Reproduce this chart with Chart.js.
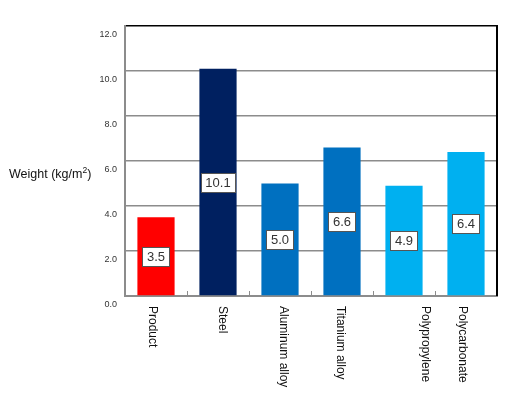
<!DOCTYPE html>
<html>
<head>
<meta charset="utf-8">
<script src="https://cdn.jsdelivr.net/npm/chart.js@4.4.1/dist/chart.umd.min.js"></script>
<style>
    html, body { margin: 0; padding: 0; background: #ffffff; }
    #wrap { width: 531px; height: 398px; }
</style>
</head>
<body>
<div id="wrap"><canvas id="graficoPeso" width="531" height="398"></canvas></div>
<script>
// Data
const categorias = ['Product', 'Steel', 'Aluminum alloy', 'Titanium alloy', 'Polypropylene', 'Polycarbonate'];
const pesos = [3.5, 10.1, 5.0, 6.6, 4.9, 6.4];
const coresBarras = ['#FF0000', '#002060', '#0070C0', '#0070C0', '#00B0F0', '#00B0F0'];
const ticksY = [0, 2, 4, 6, 8, 10, 12];

// small nudges of the rotated category labels (the source is not perfectly centred)
const ajusteRotulos = [-4, 4, 3, -2, 21, -4];

const FONTE = '"Liberation Sans", Arial, sans-serif';

document.addEventListener('DOMContentLoaded', function () {
    const ctx = document.getElementById('graficoPeso').getContext('2d');

    // --- value boxes in the middle of each bar ---
    const rotulosValor = {
        id: 'rotulosValor',
        afterDatasetsDraw(chart) {
            const c = chart.ctx;
            const meta = chart.getDatasetMeta(0);
            c.save();
            c.font = '13px ' + FONTE;
            c.textAlign = 'center';
            c.textBaseline = 'middle';
            meta.data.forEach((bar, i) => {
                const texto = pesos[i].toFixed(1);
                const meio = (bar.y + bar.base) / 2;
                const w = c.measureText(texto).width + 9;
                const h = 19;
                c.fillStyle = '#ffffff';
                c.fillRect(Math.round(bar.x - w / 2) + 0.5, Math.round(meio - h / 2) + 0.5, Math.round(w), h);
                c.strokeStyle = '#555555';
                c.lineWidth = 1;
                c.strokeRect(Math.round(bar.x - w / 2) + 0.5, Math.round(meio - h / 2) + 0.5, Math.round(w), h);
                c.fillStyle = '#333333';
                c.fillText(texto, bar.x, meio + 1);
            });
            c.restore();
        }
    };

    // --- frame, little inner ticks, rotated category names and the axis title ---
    const extras = {
        id: 'extras',
        afterDraw(chart) {
            const c = chart.ctx;
            const area = chart.chartArea;
            const x = chart.scales.x;
            c.save();

            // right border
            c.strokeStyle = '#000000';
            c.lineWidth = 2;
            c.beginPath();
            c.moveTo(area.right, area.top - 1);
            c.lineTo(area.right, area.bottom);
            c.stroke();

            // short ticks between categories, pointing up from the base line
            c.strokeStyle = '#8c8c8c';
            c.lineWidth = 1;
            for (let i = 0; i < categorias.length - 1; i++) {
                const px = Math.round((x.getPixelForTick(i) + x.getPixelForTick(i + 1)) / 2) + 0.5;
                c.beginPath();
                c.moveTo(px, area.bottom - 5);
                c.lineTo(px, area.bottom);
                c.stroke();
            }

            // category names, rotated clockwise
            c.font = '12px ' + FONTE;
            c.fillStyle = '#111111';
            c.textAlign = 'left';
            c.textBaseline = 'middle';
            categorias.forEach((nome, i) => {
                c.save();
                c.translate(x.getPixelForTick(i) + ajusteRotulos[i], area.bottom + 10);
                c.rotate(Math.PI / 2);
                c.fillText(nome, 0, 0);
                c.restore();
            });

            // horizontal y title with superscript
            c.textBaseline = 'alphabetic';
            c.font = '12.5px ' + FONTE;
            const base = 'Weight (kg/m';
            let tx = 9;
            const ty = 178;
            c.fillText(base, tx, ty);
            tx += c.measureText(base).width;
            c.font = '8.5px ' + FONTE;
            c.fillText('2', tx, ty - 5);
            tx += c.measureText('2').width;
            c.font = '12.5px ' + FONTE;
            c.fillText(')', tx, ty);

            c.restore();
        }
    };

    new Chart(ctx, {
        type: 'bar',
        data: {
            labels: categorias,
            datasets: [{
                label: 'Weight',
                data: pesos,
                backgroundColor: coresBarras,
                borderWidth: 0,
                barPercentage: 0.6,
                categoryPercentage: 1.0
            }]
        },
        options: {
            responsive: false,
            animation: false,
            layout: { padding: { top: 26, right: 34, left: 0, bottom: 0 } },
            plugins: {
                legend: { display: false },
                tooltip: { enabled: false }
            },
            scales: {
                x: {
                    grid: { display: false },
                    border: { display: true, color: '#8c8c8c', width: 2 },
                    ticks: { display: false },
                    afterFit: (scale) => { scale.height = 102; }
                },
                y: {
                    min: 0,
                    max: 12,
                    afterBuildTicks: (scale) => { scale.ticks = ticksY.map(v => ({ value: v })); },
                    grid: {
                        drawTicks: false,
                        lineWidth: 1.5,
                        color: (context) => context.tick && context.tick.value === 12 ? '#000000' : '#8c8c8c'
                    },
                    border: { display: true, color: '#8c8c8c', width: 2 },
                    ticks: {
                        padding: 8,
                        labelOffset: 9,
                        color: '#333333',
                        font: { family: FONTE, size: 9 },
                        callback: (v) => Number(v).toFixed(1)
                    },
                    afterFit: (scale) => { scale.width = 125; }
                }
            }
        },
        plugins: [rotulosValor, extras]
    });
});
</script>
</body>
</html>
